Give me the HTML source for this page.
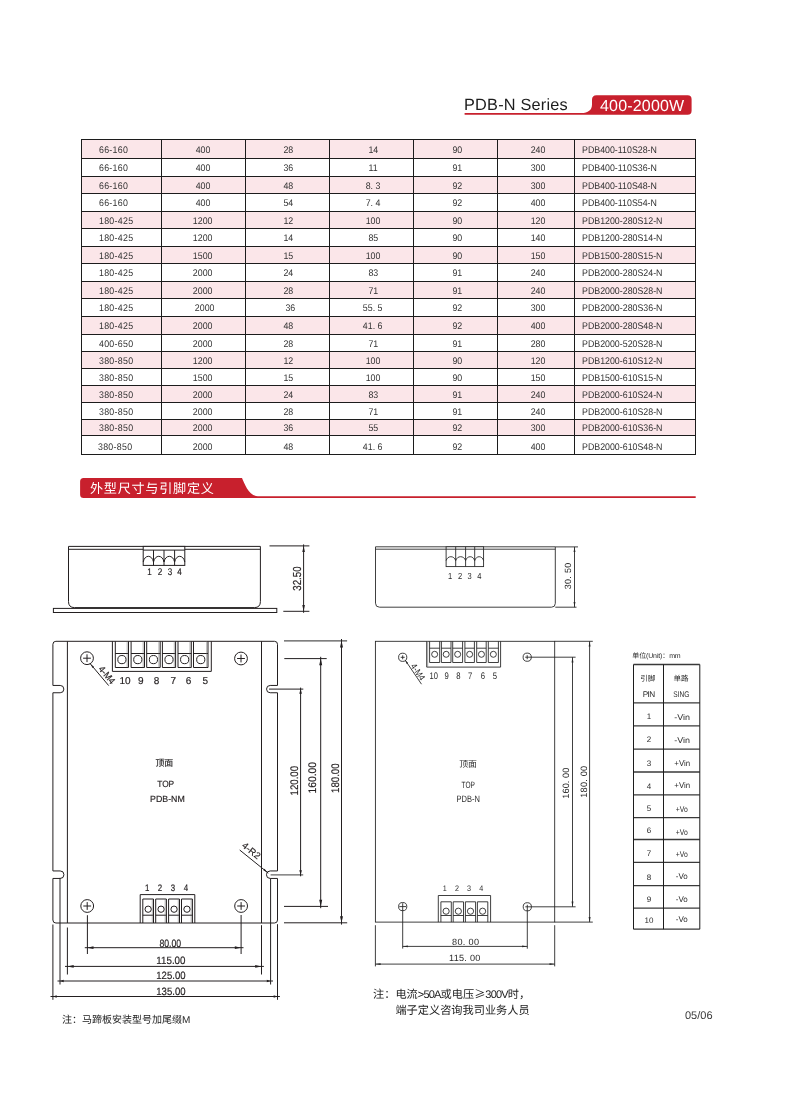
<!DOCTYPE html>
<html lang="zh-CN">
<head>
<meta charset="utf-8">
<title>PDB-N Series 400-2000W</title>
<style>
*{box-sizing:border-box}
html,body{margin:0;padding:0;background:#fff}
body{text-rendering:geometricPrecision;width:806px;height:1100px;position:relative;overflow:hidden;font-family:'Liberation Sans',sans-serif;color:#231f20}
.abs{position:absolute;will-change:transform}
.series{left:464.2px;top:95.4px;font:16.3px/20px 'Liberation Sans',sans-serif;color:#1d1d1d;white-space:nowrap;letter-spacing:.22px}
.watt{left:600px;top:96.6px;font:16px/20px 'Liberation Sans',sans-serif;color:#fff;white-space:nowrap;letter-spacing:.18px}
table.spec{will-change:transform;position:absolute;left:81px;top:139px;border-collapse:collapse;table-layout:fixed;width:615px;font:9.6px/12px 'Liberation Sans',sans-serif;color:#333}
table.spec td span{display:inline-block;position:relative;top:1.9px;transform:scale(.92,1);transform-origin:50% 50%}
table.spec td.c1 span,table.spec td.c7 span{transform-origin:0 50%}
table.spec td{border:1px solid #1c1c1c;padding:0 0 0 0;text-align:center;vertical-align:middle;white-space:nowrap;overflow:hidden}
table.spec tr.p td{background:#fbe6e9}
table.spec td.c1{text-align:left;padding-left:16.6px;letter-spacing:.3px}
table.spec td.c7{text-align:left;padding-left:6.5px}
table.spec td.c2{padding-right:1.5px}
table.spec td.c3{padding-left:1px}
table.spec td.c4{padding-left:3px}
table.spec td.c5{padding-left:3.5px}
table.spec td.c6{padding-left:4px}
.sect{left:90.2px;top:479.2px;font:13.1px/19px 'Liberation Sans','Noto Sans CJK SC',sans-serif;color:#fff;white-space:nowrap;letter-spacing:.75px}
.note1{left:61.8px;top:1012.8px;font:10px/16px 'Liberation Sans','Noto Sans CJK SC',sans-serif;color:#222;white-space:nowrap}
.note2{left:373.4px;top:986.1px;font:11.2px/16.2px 'Liberation Sans','Noto Sans CJK SC',sans-serif;color:#222;white-space:nowrap}
.note2 .cn{font-family:'Liberation Sans','Noto Sans CJK SC',sans-serif}
.note2 .fw{font-family:'Noto Sans CJK SC',sans-serif}
.note2 .la{font-size:11px;letter-spacing:-.8px}
.pageno{left:684.9px;top:1007.6px;font:11px/16px 'Liberation Sans',sans-serif;color:#3a3a3a}
svg text{text-rendering:geometricPrecision;font-family:'Liberation Sans',sans-serif;fill:#231f20}
svg .m{font-family:'Liberation Sans',sans-serif;fill:#2a2a2a}
svg .h{font-family:'Liberation Sans','Noto Sans CJK SC',sans-serif;fill:#2a2a2a}
</style>
</head>
<body>
<svg class="abs" style="left:0;top:0" width="806" height="1100" viewBox="0 0 806 1100">
<g id="hdr" fill="#c8202d" stroke="none">
<path d="M464.6 113.1 H581.5 C588 113.1 592 110 592 104.5 V99.8 Q592 95.3 596.5 95.3 H687.6 Q691.6 95.3 691.6 99.3 V110.8 Q691.6 114.8 687.6 114.8 H464.6 Z"/>
<path d="M83.6 478.1 H242 C244.5 484 249 496.2 258 496.2 H695.7 V497.9 H83.6 Q80.1 497.9 80.1 494.4 V481.6 Q80.1 478.1 83.6 478.1 Z"/>
</g>
</svg>
<div class="abs series">PDB-N Series</div>
<div class="abs watt">400-2000W</div>
<table class="spec"><colgroup><col style="width:80px"><col style="width:84px"><col style="width:84px"><col style="width:84px"><col style="width:84px"><col style="width:77px"><col style="width:121px"></colgroup>
<tr class="p" style="height:19px"><td class="c1"><span>66-160</span></td><td class="c2"><span>400</span></td><td class="c3"><span>28</span></td><td class="c4"><span>14</span></td><td class="c5"><span>90</span></td><td class="c6"><span>240</span></td><td class="c7"><span>PDB400-110S28-N</span></td></tr>
<tr style="height:18px"><td class="c1"><span>66-160</span></td><td class="c2"><span>400</span></td><td class="c3"><span>36</span></td><td class="c4"><span>11</span></td><td class="c5"><span>91</span></td><td class="c6"><span>300</span></td><td class="c7"><span>PDB400-110S36-N</span></td></tr>
<tr class="p" style="height:17px"><td class="c1"><span>66-160</span></td><td class="c2"><span>400</span></td><td class="c3"><span>48</span></td><td class="c4"><span>8. 3</span></td><td class="c5"><span>92</span></td><td class="c6"><span>300</span></td><td class="c7"><span>PDB400-110S48-N</span></td></tr>
<tr style="height:18px"><td class="c1"><span>66-160</span></td><td class="c2"><span>400</span></td><td class="c3"><span>54</span></td><td class="c4"><span>7. 4</span></td><td class="c5"><span>92</span></td><td class="c6"><span>400</span></td><td class="c7"><span>PDB400-110S54-N</span></td></tr>
<tr class="p" style="height:17px"><td class="c1"><span>180-425</span></td><td class="c2"><span>1200</span></td><td class="c3"><span>12</span></td><td class="c4"><span>100</span></td><td class="c5"><span>90</span></td><td class="c6"><span>120</span></td><td class="c7"><span>PDB1200-280S12-N</span></td></tr>
<tr style="height:18px"><td class="c1"><span>180-425</span></td><td class="c2"><span>1200</span></td><td class="c3"><span>14</span></td><td class="c4"><span>85</span></td><td class="c5"><span>90</span></td><td class="c6"><span>140</span></td><td class="c7"><span>PDB1200-280S14-N</span></td></tr>
<tr class="p" style="height:17px"><td class="c1"><span>180-425</span></td><td class="c2"><span>1500</span></td><td class="c3"><span>15</span></td><td class="c4"><span>100</span></td><td class="c5"><span>90</span></td><td class="c6"><span>150</span></td><td class="c7"><span>PDB1500-280S15-N</span></td></tr>
<tr style="height:18px"><td class="c1"><span>180-425</span></td><td class="c2"><span>2000</span></td><td class="c3"><span>24</span></td><td class="c4"><span>83</span></td><td class="c5"><span>91</span></td><td class="c6"><span>240</span></td><td class="c7"><span>PDB2000-280S24-N</span></td></tr>
<tr class="p" style="height:17px"><td class="c1"><span>180-425</span></td><td class="c2"><span>2000</span></td><td class="c3"><span>28</span></td><td class="c4"><span>71</span></td><td class="c5"><span>91</span></td><td class="c6"><span>240</span></td><td class="c7"><span>PDB2000-280S28-N</span></td></tr>
<tr style="height:18px"><td class="c1"><span>180-425</span></td><td class="c2"><span style="left:2px">2000</span></td><td class="c3"><span style="left:2px">36</span></td><td class="c4"><span>55. 5</span></td><td class="c5"><span>92</span></td><td class="c6"><span>300</span></td><td class="c7"><span>PDB2000-280S36-N</span></td></tr>
<tr class="p" style="height:18px"><td class="c1"><span>180-425</span></td><td class="c2"><span>2000</span></td><td class="c3"><span>48</span></td><td class="c4"><span>41. 6</span></td><td class="c5"><span>92</span></td><td class="c6"><span>400</span></td><td class="c7"><span>PDB2000-280S48-N</span></td></tr>
<tr style="height:17px"><td class="c1"><span>400-650</span></td><td class="c2"><span>2000</span></td><td class="c3"><span>28</span></td><td class="c4"><span>71</span></td><td class="c5"><span>91</span></td><td class="c6"><span>280</span></td><td class="c7"><span>PDB2000-520S28-N</span></td></tr>
<tr class="p" style="height:17px"><td class="c1"><span>380-850</span></td><td class="c2"><span>1200</span></td><td class="c3"><span>12</span></td><td class="c4"><span>100</span></td><td class="c5"><span>90</span></td><td class="c6"><span>120</span></td><td class="c7"><span>PDB1200-610S12-N</span></td></tr>
<tr style="height:17px"><td class="c1"><span>380-850</span></td><td class="c2"><span>1500</span></td><td class="c3"><span>15</span></td><td class="c4"><span>100</span></td><td class="c5"><span>90</span></td><td class="c6"><span>150</span></td><td class="c7"><span>PDB1500-610S15-N</span></td></tr>
<tr class="p" style="height:17px"><td class="c1"><span>380-850</span></td><td class="c2"><span>2000</span></td><td class="c3"><span>24</span></td><td class="c4"><span>83</span></td><td class="c5"><span>91</span></td><td class="c6"><span>240</span></td><td class="c7"><span>PDB2000-610S24-N</span></td></tr>
<tr style="height:17px"><td class="c1"><span>380-850</span></td><td class="c2"><span>2000</span></td><td class="c3"><span>28</span></td><td class="c4"><span>71</span></td><td class="c5"><span>91</span></td><td class="c6"><span>240</span></td><td class="c7"><span>PDB2000-610S28-N</span></td></tr>
<tr class="p" style="height:16px"><td class="c1"><span>380-850</span></td><td class="c2"><span>2000</span></td><td class="c3"><span>36</span></td><td class="c4"><span>55</span></td><td class="c5"><span>92</span></td><td class="c6"><span>300</span></td><td class="c7"><span>PDB2000-610S36-N</span></td></tr>
<tr style="height:19px"><td class="c1"><span style="top:2.9px;left:-.8px">380-850</span></td><td class="c2"><span style="top:2.9px">2000</span></td><td class="c3"><span style="top:2.9px">48</span></td><td class="c4"><span style="top:2.9px">41. 6</span></td><td class="c5"><span style="top:2.9px">92</span></td><td class="c6"><span style="top:2.9px">400</span></td><td class="c7"><span style="top:2.9px">PDB2000-610S48-N</span></td></tr>
</table>
<div class="abs sect">外型尺寸与引脚定义</div>
<svg class="abs" style="left:0;top:0" width="806" height="1100" viewBox="0 0 806 1100">
<g id="left" fill="none" stroke="#231f20" stroke-width="1" color="#231f20">
<path d="M68.5 546.4 H260.4 V601.6 Q260.4 607.6 254.4 607.6 H74.5 Q68.5 607.6 68.5 601.6 Z"/>
<line x1="68.5" y1="549.3" x2="260.4" y2="549.3"/>
<rect x="53.4" y="608.4" width="223.4" height="4.1"/>
<rect x="143.2" y="546.4" width="41.6" height="19.0" fill="#fff"/>
<line x1="143.2" y1="550.1" x2="184.8" y2="550.1"/>
<line x1="153.5" y1="550.1" x2="153.5" y2="565.4"/>
<line x1="164.0" y1="550.1" x2="164.0" y2="565.4"/>
<line x1="174.6" y1="550.1" x2="174.6" y2="565.4"/>
<path d="M143.2 562 C144.7 554.4 152.0 554.4 153.5 562"/>
<path d="M153.5 562 C155.0 554.4 162.5 554.4 164.0 562"/>
<path d="M164.0 562 C165.5 554.4 173.1 554.4 174.6 562"/>
<path d="M174.6 562 C176.1 554.4 183.3 554.4 184.8 562"/>
<line x1="269.5" y1="545.9" x2="309.4" y2="545.9"/>
<line x1="283.3" y1="611.3" x2="309.4" y2="611.3"/>
<line x1="303.6" y1="544.4" x2="303.6" y2="612.8"/>
<path d="M303.60 545.90 L304.90 552.10 L302.30 552.10 Z" fill="currentColor" stroke="none"/>
<path d="M303.60 611.30 L302.30 605.10 L304.90 605.10 Z" fill="currentColor" stroke="none"/>
<path d="M55.9 641.3 H274.5 Q277.5 641.3 277.5 644.3 V685.45 H270.2 A3.65 3.65 0 0 0 270.2 692.75 H277.5 V870.95 H270.2 A3.65 3.65 0 0 0 270.2 878.45 H277.5 V920.0 Q277.5 923.0 274.5 923.0 H55.9 Q52.9 923.0 52.9 920.0 V878.45 H60.2 A3.65 3.65 0 0 0 60.2 870.95 H52.9 V692.75 H60.2 A3.65 3.65 0 0 0 60.2 685.45 H52.9 V644.3 Q52.9 641.3 55.9 641.3 Z"/>
<line x1="67.4" y1="641.3" x2="67.4" y2="923.0"/>
<line x1="261.5" y1="641.3" x2="261.5" y2="923.0"/>
<circle cx="87.0" cy="658.2" r="6.4"/>
<line x1="83.1" y1="658.2" x2="90.9" y2="658.2"/>
<line x1="87.0" y1="654.3000000000001" x2="87.0" y2="662.1"/>
<circle cx="241.0" cy="658.5" r="6.4"/>
<line x1="237.1" y1="658.5" x2="244.9" y2="658.5"/>
<line x1="241.0" y1="654.6" x2="241.0" y2="662.4"/>
<circle cx="87.2" cy="906.0" r="6.4"/>
<line x1="83.3" y1="906.0" x2="91.10000000000001" y2="906.0"/>
<line x1="87.2" y1="902.1" x2="87.2" y2="909.9"/>
<circle cx="241.1" cy="906.0" r="6.4"/>
<line x1="237.2" y1="906.0" x2="245.0" y2="906.0"/>
<line x1="241.1" y1="902.1" x2="241.1" y2="909.9"/>
<path d="M112.4 641.3 V671.4 H211.3 V641.3"/>
<path d="M115.3 641.3 V667.5 H128.5 V641.3"/>
<line x1="115.3" y1="653.5" x2="128.5" y2="653.5"/>
<line x1="127.2" y1="641.3" x2="127.2" y2="667.5" stroke-width="0.5" stroke="#666"/>
<circle cx="121.9" cy="659.6" r="4.1"/>
<path d="M131.1 641.3 V667.5 H144.5 V641.3"/>
<line x1="131.1" y1="653.5" x2="144.5" y2="653.5"/>
<line x1="143.2" y1="641.3" x2="143.2" y2="667.5" stroke-width="0.5" stroke="#666"/>
<circle cx="137.8" cy="659.6" r="4.1"/>
<path d="M146.7 641.3 V667.5 H160.2 V641.3"/>
<line x1="146.7" y1="653.5" x2="160.2" y2="653.5"/>
<line x1="158.89999999999998" y1="641.3" x2="158.89999999999998" y2="667.5" stroke-width="0.5" stroke="#666"/>
<circle cx="153.45" cy="659.6" r="4.1"/>
<path d="M162.4 641.3 V667.5 H175.6 V641.3"/>
<line x1="162.4" y1="653.5" x2="175.6" y2="653.5"/>
<line x1="174.29999999999998" y1="641.3" x2="174.29999999999998" y2="667.5" stroke-width="0.5" stroke="#666"/>
<circle cx="169.0" cy="659.6" r="4.1"/>
<path d="M178.0 641.3 V667.5 H191.3 V641.3"/>
<line x1="178.0" y1="653.5" x2="191.3" y2="653.5"/>
<line x1="190.0" y1="641.3" x2="190.0" y2="667.5" stroke-width="0.5" stroke="#666"/>
<circle cx="184.65" cy="659.6" r="4.1"/>
<path d="M193.5 641.3 V667.5 H208.0 V641.3"/>
<line x1="193.5" y1="653.5" x2="208.0" y2="653.5"/>
<line x1="206.7" y1="641.3" x2="206.7" y2="667.5" stroke-width="0.5" stroke="#666"/>
<circle cx="200.75" cy="659.6" r="4.1"/>
<path d="M140.2 923 V894.6 H194.8 V923"/>
<path d="M142.8 923 V899.0 H153.5 V923"/>
<line x1="142.8" y1="915.2" x2="153.5" y2="915.2"/>
<line x1="152.3" y1="899.0" x2="152.3" y2="923" stroke-width="0.5" stroke="#666"/>
<circle cx="148.15" cy="909.2" r="3.15"/>
<path d="M155.7 923 V899.0 H166.4 V923"/>
<line x1="155.7" y1="915.2" x2="166.4" y2="915.2"/>
<line x1="165.20000000000002" y1="899.0" x2="165.20000000000002" y2="923" stroke-width="0.5" stroke="#666"/>
<circle cx="161.05" cy="909.2" r="3.15"/>
<path d="M168.6 923 V899.0 H179.5 V923"/>
<line x1="168.6" y1="915.2" x2="179.5" y2="915.2"/>
<line x1="178.3" y1="899.0" x2="178.3" y2="923" stroke-width="0.5" stroke="#666"/>
<circle cx="174.05" cy="909.2" r="3.15"/>
<path d="M181.5 923 V899.0 H192.4 V923"/>
<line x1="181.5" y1="915.2" x2="192.4" y2="915.2"/>
<line x1="191.20000000000002" y1="899.0" x2="191.20000000000002" y2="923" stroke-width="0.5" stroke="#666"/>
<circle cx="186.95" cy="909.2" r="3.15"/>
<line x1="89.7" y1="663.1" x2="108.7" y2="685.6"/>
<path d="M90.60 664.20 L94.07 666.76 L92.55 668.05 Z" fill="currentColor" stroke="none"/>
<line x1="239.7" y1="850.0" x2="268.3" y2="873.1"/>
<path d="M267.50 872.45 L263.29 870.34 L264.55 868.78 Z" fill="currentColor" stroke="none"/>
<line x1="284.0" y1="640.9" x2="347.1" y2="640.9" stroke-width="1.25" stroke="#555"/>
<line x1="284.3" y1="658.6" x2="326.7" y2="658.6"/>
<line x1="269" y1="689.1" x2="303.3" y2="689.1"/>
<line x1="270.6" y1="874.8" x2="303.2" y2="874.8" stroke-width="1.2" stroke="#666"/>
<line x1="284" y1="906.4" x2="328" y2="906.4"/>
<line x1="284" y1="922.8" x2="347.2" y2="922.8"/>
<line x1="300.6" y1="687.6" x2="300.6" y2="876.3"/>
<path d="M300.60 689.10 L301.90 693.70 L299.30 693.70 Z" fill="currentColor" stroke="none"/>
<path d="M300.60 874.80 L299.30 870.20 L301.90 870.20 Z" fill="currentColor" stroke="none"/>
<line x1="320.7" y1="656.8000000000001" x2="320.7" y2="908.1999999999999"/>
<path d="M320.70 658.60 L322.20 665.20 L319.20 665.20 Z" fill="currentColor" stroke="none"/>
<path d="M320.70 906.40 L319.20 899.80 L322.20 899.80 Z" fill="currentColor" stroke="none"/>
<line x1="341.5" y1="639.0" x2="341.5" y2="924.5999999999999"/>
<path d="M341.50 640.80 L343.00 647.40 L340.00 647.40 Z" fill="currentColor" stroke="none"/>
<path d="M341.50 922.80 L340.00 916.20 L343.00 916.20 Z" fill="currentColor" stroke="none"/>
<line x1="87.4" y1="915.2" x2="87.4" y2="954.0"/>
<line x1="241.1" y1="915.0" x2="241.1" y2="954.0"/>
<line x1="67.4" y1="927.5" x2="67.4" y2="974.5"/>
<line x1="261.5" y1="925.2" x2="261.5" y2="974.5"/>
<line x1="60.0" y1="877.9" x2="60.0" y2="984.5"/>
<line x1="270.6" y1="878.6" x2="270.6" y2="984.5"/>
<line x1="52.9" y1="924.5" x2="52.9" y2="999.8"/>
<line x1="277.5" y1="924.2" x2="277.5" y2="999.8"/>
<line x1="84.8" y1="947.7" x2="243.5" y2="947.7"/>
<path d="M87.20 947.70 L93.50 946.30 L93.50 949.10 Z" fill="currentColor" stroke="none"/>
<path d="M241.10 947.70 L234.80 949.10 L234.80 946.30 Z" fill="currentColor" stroke="none"/>
<line x1="65.0" y1="966.4" x2="263.9" y2="966.4"/>
<path d="M67.40 966.40 L73.70 965.00 L73.70 967.80 Z" fill="currentColor" stroke="none"/>
<path d="M261.50 966.40 L255.20 967.80 L255.20 965.00 Z" fill="currentColor" stroke="none"/>
<line x1="57.5" y1="981.0" x2="273.0" y2="981.0"/>
<path d="M59.90 981.00 L63.70 979.80 L63.70 982.20 Z" fill="currentColor" stroke="none"/>
<path d="M270.60 981.00 L266.80 982.20 L266.80 979.80 Z" fill="currentColor" stroke="none"/>
<line x1="50.5" y1="996.5" x2="279.9" y2="996.5"/>
<path d="M52.90 996.50 L56.70 995.30 L56.70 997.70 Z" fill="currentColor" stroke="none"/>
<path d="M277.50 996.50 L273.70 997.70 L273.70 995.30 Z" fill="currentColor" stroke="none"/>
</g>
<g id="left-text" stroke="#231f20" stroke-width="0.18">
<text x="149.5" y="575.0" font-size="9.6" text-anchor="middle" textLength="4.5" lengthAdjust="spacingAndGlyphs">1</text>
<text x="160.0" y="575.0" font-size="9.6" text-anchor="middle" textLength="4.5" lengthAdjust="spacingAndGlyphs">2</text>
<text x="170.0" y="575.0" font-size="9.6" text-anchor="middle" textLength="4.5" lengthAdjust="spacingAndGlyphs">3</text>
<text x="179.6" y="575.0" font-size="9.6" text-anchor="middle" textLength="4.5" lengthAdjust="spacingAndGlyphs">4</text>
<text font-size="11.6" text-anchor="middle" textLength="24.4" lengthAdjust="spacingAndGlyphs" transform="translate(301.4 578.6) rotate(-90)">32.50</text>
<text x="125.0" y="684.3" font-size="10" text-anchor="middle">10</text>
<text x="140.7" y="684.3" font-size="10" text-anchor="middle">9</text>
<text x="156.6" y="684.3" font-size="10" text-anchor="middle">8</text>
<text x="173.2" y="684.3" font-size="10" text-anchor="middle">7</text>
<text x="188.5" y="684.3" font-size="10" text-anchor="middle">6</text>
<text x="205.3" y="684.3" font-size="10" text-anchor="middle">5</text>
<text x="147.2" y="891.1" font-size="9.4" text-anchor="middle" textLength="4.4" lengthAdjust="spacingAndGlyphs">1</text>
<text x="160.0" y="891.1" font-size="9.4" text-anchor="middle" textLength="4.4" lengthAdjust="spacingAndGlyphs">2</text>
<text x="173.0" y="891.1" font-size="9.4" text-anchor="middle" textLength="4.4" lengthAdjust="spacingAndGlyphs">3</text>
<text x="186.0" y="891.1" font-size="9.4" text-anchor="middle" textLength="4.4" lengthAdjust="spacingAndGlyphs">4</text>
<text font-size="9.4" textLength="20.2" lengthAdjust="spacingAndGlyphs" transform="translate(97.9 669.3) rotate(49.8)">4-M4</text>
<text font-size="9.4" textLength="20.6" lengthAdjust="spacingAndGlyphs" transform="translate(241.3 846.6) rotate(38.9)">4-R2</text>
<text x="164.3" y="766.4" font-size="8.9" class="h" text-anchor="middle">顶面</text>
<text x="165.7" y="786.6" font-size="9.1" text-anchor="middle" textLength="17.0" lengthAdjust="spacingAndGlyphs">TOP</text>
<text x="167.4" y="802.1" font-size="9.1" text-anchor="middle" textLength="34.6" lengthAdjust="spacingAndGlyphs">PDB-NM</text>
<text font-size="11" text-anchor="middle" textLength="29.6" lengthAdjust="spacingAndGlyphs" transform="translate(298.1 780.7) rotate(-90)">120.00</text>
<text font-size="11" text-anchor="middle" textLength="31.4" lengthAdjust="spacingAndGlyphs" transform="translate(315.8 777.8) rotate(-90)">160.00</text>
<text font-size="11" text-anchor="middle" textLength="29.6" lengthAdjust="spacingAndGlyphs" transform="translate(338.8 778.2) rotate(-90)">180.00</text>
<text x="170.3" y="946.5" font-size="10.6" text-anchor="middle" textLength="21.8" lengthAdjust="spacingAndGlyphs">80.00</text>
<text x="170.9" y="963.7" font-size="10.6" text-anchor="middle" textLength="29.2" lengthAdjust="spacingAndGlyphs">115.00</text>
<text x="170.9" y="979.3" font-size="10.6" text-anchor="middle" textLength="29.2" lengthAdjust="spacingAndGlyphs">125.00</text>
<text x="170.9" y="994.8" font-size="10.6" text-anchor="middle" textLength="29.2" lengthAdjust="spacingAndGlyphs">135.00</text>
</g>
<g id="right" fill="none" stroke="#262626" stroke-width="0.88" color="#262626">
<path d="M375.5 546.8 H555.3 V603.4 Q555.3 607.2 551.5 607.2 H379.5 Q375.5 607.2 375.5 603.2 Z"/>
<line x1="375.5" y1="549.2" x2="555.3" y2="549.2"/>
<rect x="446.1" y="546.8" width="37.5" height="19.8" fill="#fff"/>
<line x1="446.1" y1="549.2" x2="483.6" y2="549.2"/>
<line x1="455.7" y1="546.8" x2="455.7" y2="566.6"/>
<line x1="465.6" y1="546.8" x2="465.6" y2="566.6"/>
<line x1="474.7" y1="546.8" x2="474.7" y2="566.6"/>
<path d="M446.1 560.6 C447.6 555.4 454.2 555.4 455.7 560.6"/>
<path d="M455.7 560.6 C457.2 555.4 464.1 555.4 465.6 560.6"/>
<path d="M465.6 560.6 C467.1 555.4 473.2 555.4 474.7 560.6"/>
<path d="M474.7 560.6 C476.2 555.4 482.1 555.4 483.6 560.6"/>
<line x1="555.3" y1="546.9" x2="578" y2="546.9"/>
<line x1="555.3" y1="607.2" x2="576.5" y2="607.2"/>
<line x1="574.5" y1="546.9" x2="574.5" y2="607.2"/>
<path d="M574.50 546.90 L575.45 552.10 L573.55 552.10 Z" fill="currentColor" stroke="none"/>
<path d="M574.50 607.20 L573.55 602.00 L575.45 602.00 Z" fill="currentColor" stroke="none"/>
<rect x="375.4" y="641.3" width="179.3" height="280.8"/>
<line x1="554.7" y1="641.3" x2="592.8" y2="641.3"/>
<line x1="554.7" y1="922.1" x2="592.8" y2="922.1"/>
<circle cx="402.7" cy="657.3" r="4.1"/>
<circle cx="527.2" cy="657.2" r="4.1"/>
<circle cx="402.7" cy="906.6" r="4.1"/>
<circle cx="527.3" cy="906.8" r="4.1"/>
<line x1="400.7" y1="657.3" x2="404.7" y2="657.3"/>
<line x1="402.7" y1="655.3" x2="402.7" y2="659.3"/>
<line x1="525.2" y1="657.2" x2="575.6" y2="657.2"/>
<line x1="527.2" y1="655.2" x2="527.2" y2="659.2"/>
<line x1="399.3" y1="906.6" x2="406.09999999999997" y2="906.6"/>
<line x1="402.7" y1="903.2" x2="402.7" y2="948.6"/>
<line x1="525.3" y1="906.8" x2="575.6" y2="906.8"/>
<line x1="527.3" y1="904.8" x2="527.3" y2="948.7"/>
<path d="M426.7 641.3 V667.1 H500.6 V641.3"/>
<line x1="427.7" y1="641.3" x2="427.7" y2="667.1" stroke-width="0.6" stroke="#777"/>
<path d="M429.6 641.3 V662.5 H439.7 V641.3"/>
<line x1="429.6" y1="648.2" x2="439.7" y2="648.2"/>
<circle cx="434.65" cy="654.3" r="3.0"/>
<path d="M441.4 641.3 V662.5 H451.0 V641.3"/>
<line x1="441.4" y1="648.2" x2="451.0" y2="648.2"/>
<circle cx="446.2" cy="654.3" r="3.0"/>
<path d="M452.7 641.3 V662.5 H462.6 V641.3"/>
<line x1="452.7" y1="648.2" x2="462.6" y2="648.2"/>
<circle cx="457.65" cy="654.3" r="3.0"/>
<path d="M464.9 641.3 V662.5 H474.4 V641.3"/>
<line x1="464.9" y1="648.2" x2="474.4" y2="648.2"/>
<circle cx="469.65" cy="654.3" r="3.0"/>
<path d="M476.7 641.3 V662.5 H486.2 V641.3"/>
<line x1="476.7" y1="648.2" x2="486.2" y2="648.2"/>
<circle cx="481.45" cy="654.3" r="3.0"/>
<path d="M488.3 641.3 V662.5 H498.4 V641.3"/>
<line x1="488.3" y1="648.2" x2="498.4" y2="648.2"/>
<circle cx="493.35" cy="654.3" r="3.0"/>
<path d="M438.3 922.1 V895.5 H490.6 V922.1"/>
<path d="M440.9 922.1 V901.8 H451.3 V922.1"/>
<line x1="440.9" y1="915.5" x2="451.3" y2="915.5"/>
<circle cx="446.1" cy="911.2" r="3.1"/>
<path d="M453.2 922.1 V901.8 H463.5 V922.1"/>
<line x1="453.2" y1="915.5" x2="463.5" y2="915.5"/>
<circle cx="458.35" cy="911.2" r="3.1"/>
<path d="M465.4 922.1 V901.8 H475.6 V922.1"/>
<line x1="465.4" y1="915.5" x2="475.6" y2="915.5"/>
<circle cx="470.5" cy="911.2" r="3.1"/>
<path d="M477.4 922.1 V901.8 H487.8 V922.1"/>
<line x1="477.4" y1="915.5" x2="487.8" y2="915.5"/>
<circle cx="482.6" cy="911.2" r="3.1"/>
<line x1="405.0" y1="659.9" x2="421.5" y2="684.2"/>
<path d="M405.40 660.50 L408.17 662.97 L406.68 663.98 Z" fill="currentColor" stroke="none"/>
<line x1="375.4" y1="925.2" x2="375.4" y2="966.4"/>
<line x1="554.7" y1="925.2" x2="554.7" y2="966.4"/>
<line x1="402.7" y1="946.4" x2="527.3" y2="946.4"/>
<path d="M402.70 946.40 L407.90 945.45 L407.90 947.35 Z" fill="currentColor" stroke="none"/>
<path d="M527.30 946.40 L522.10 947.35 L522.10 945.45 Z" fill="currentColor" stroke="none"/>
<line x1="375.4" y1="964.1" x2="554.7" y2="964.1"/>
<path d="M375.40 964.10 L380.60 963.15 L380.60 965.05 Z" fill="currentColor" stroke="none"/>
<path d="M554.70 964.10 L549.50 965.05 L549.50 963.15 Z" fill="currentColor" stroke="none"/>
<line x1="572.5" y1="657.2" x2="572.5" y2="906.8"/>
<path d="M572.50 657.20 L573.45 662.40 L571.55 662.40 Z" fill="currentColor" stroke="none"/>
<path d="M572.50 906.80 L571.55 901.60 L573.45 901.60 Z" fill="currentColor" stroke="none"/>
<line x1="589.6" y1="641.3" x2="589.6" y2="922.1"/>
<path d="M589.60 641.30 L590.55 646.50 L588.65 646.50 Z" fill="currentColor" stroke="none"/>
<path d="M589.60 922.10 L588.65 916.90 L590.55 916.90 Z" fill="currentColor" stroke="none"/>
</g>
<g id="right-text" stroke="none">
<text x="450.1" y="579.0" font-size="8.7" class="m" text-anchor="middle" textLength="4.2" lengthAdjust="spacingAndGlyphs">1</text>
<text x="460.1" y="579.0" font-size="8.7" class="m" text-anchor="middle" textLength="4.2" lengthAdjust="spacingAndGlyphs">2</text>
<text x="469.7" y="579.0" font-size="8.7" class="m" text-anchor="middle" textLength="4.2" lengthAdjust="spacingAndGlyphs">3</text>
<text x="479.4" y="579.0" font-size="8.7" class="m" text-anchor="middle" textLength="4.2" lengthAdjust="spacingAndGlyphs">4</text>
<text font-size="9" class="m" text-anchor="middle" textLength="26.4" lengthAdjust="spacing" transform="translate(571.3 576.0) rotate(-90)">30. 50</text>
<text x="433.8" y="678.7" font-size="9.5" class="m" text-anchor="middle" textLength="8.4" lengthAdjust="spacingAndGlyphs">10</text>
<text x="446.6" y="678.7" font-size="9.5" class="m" text-anchor="middle" textLength="4.3" lengthAdjust="spacingAndGlyphs">9</text>
<text x="458.5" y="678.7" font-size="9.5" class="m" text-anchor="middle" textLength="4.3" lengthAdjust="spacingAndGlyphs">8</text>
<text x="470.1" y="678.7" font-size="9.5" class="m" text-anchor="middle" textLength="4.3" lengthAdjust="spacingAndGlyphs">7</text>
<text x="482.8" y="678.7" font-size="9.5" class="m" text-anchor="middle" textLength="4.3" lengthAdjust="spacingAndGlyphs">6</text>
<text x="494.9" y="678.7" font-size="9.5" class="m" text-anchor="middle" textLength="4.3" lengthAdjust="spacingAndGlyphs">5</text>
<text x="444.7" y="890.9" font-size="8" class="m" text-anchor="middle" textLength="4.0" lengthAdjust="spacingAndGlyphs">1</text>
<text x="457.1" y="890.9" font-size="8" class="m" text-anchor="middle" textLength="4.0" lengthAdjust="spacingAndGlyphs">2</text>
<text x="469.0" y="890.9" font-size="8" class="m" text-anchor="middle" textLength="4.0" lengthAdjust="spacingAndGlyphs">3</text>
<text x="481.2" y="890.9" font-size="8" class="m" text-anchor="middle" textLength="4.0" lengthAdjust="spacingAndGlyphs">4</text>
<text font-size="9" class="m" textLength="18.3" lengthAdjust="spacingAndGlyphs" transform="translate(410.3 666.0) rotate(56.2)">4-M4</text>
<text x="468.0" y="767.2" font-size="8.9" class="h" text-anchor="middle">顶面</text>
<text x="468.2" y="787.8" font-size="9.2" class="m" text-anchor="middle" textLength="13.4" lengthAdjust="spacingAndGlyphs">TOP</text>
<text x="468.2" y="802.1" font-size="9.2" class="m" text-anchor="middle" textLength="23.4" lengthAdjust="spacingAndGlyphs">PDB-N</text>
<text font-size="9.2" class="m" text-anchor="middle" textLength="31.0" lengthAdjust="spacing" transform="translate(569.0 783.2) rotate(-90)">160. 00</text>
<text font-size="9.2" class="m" text-anchor="middle" textLength="31.8" lengthAdjust="spacing" transform="translate(586.6 781.8) rotate(-90)">180. 00</text>
<text x="465.5" y="944.5" font-size="9.1" class="m" text-anchor="middle" textLength="27.0" lengthAdjust="spacing">80. 00</text>
<text x="464.7" y="960.5" font-size="9.1" class="m" text-anchor="middle" textLength="31.2" lengthAdjust="spacing">115. 00</text>
</g>
<g id="pins" fill="none" stroke="#1c1c1c" stroke-width="1">
<line x1="633.5" y1="664.5" x2="699.8" y2="664.5" stroke-width="1.3" stroke="#3a3a3a"/>
<line x1="633.5" y1="702.9" x2="699.8" y2="702.9" stroke-width="1.3" stroke="#3a3a3a"/>
<line x1="633.5" y1="725.9" x2="699.8" y2="725.9" stroke-width="1.3" stroke="#3a3a3a"/>
<line x1="633.5" y1="749.1" x2="699.8" y2="749.1" stroke-width="1.3" stroke="#3a3a3a"/>
<line x1="633.5" y1="772.0" x2="699.8" y2="772.0" stroke-width="1.3" stroke="#3a3a3a"/>
<line x1="633.5" y1="794.8" x2="699.8" y2="794.8" stroke-width="1.3" stroke="#3a3a3a"/>
<line x1="633.5" y1="817.6" x2="699.8" y2="817.6" stroke-width="1.3" stroke="#3a3a3a"/>
<line x1="633.5" y1="839.5" x2="699.8" y2="839.5" stroke-width="1.3" stroke="#3a3a3a"/>
<line x1="633.5" y1="862.4" x2="699.8" y2="862.4" stroke-width="1.3" stroke="#3a3a3a"/>
<line x1="633.5" y1="885.6" x2="699.8" y2="885.6" stroke-width="1.3" stroke="#3a3a3a"/>
<line x1="633.5" y1="908.2" x2="699.8" y2="908.2" stroke-width="1.3" stroke="#3a3a3a"/>
<line x1="633.5" y1="929.2" x2="699.8" y2="929.2" stroke-width="1.3" stroke="#3a3a3a"/>
<line x1="633.5" y1="664.5" x2="633.5" y2="929.2"/>
<line x1="663.5" y1="664.5" x2="663.5" y2="929.2"/>
<line x1="699.8" y1="664.5" x2="699.8" y2="929.2"/>
</g>
<g id="pin-text" stroke="none">
<text x="632.3" y="657.6" font-size="7" class="h" textLength="48.4" lengthAdjust="spacing">单位(Unit)：mm</text>
<text x="647.8" y="681.2" font-size="7.6" class="h" text-anchor="middle">引脚</text>
<text x="681.0" y="681.2" font-size="7.6" class="h" text-anchor="middle">单路</text>
<text x="648.9" y="697.2" font-size="8.2" class="m" text-anchor="middle" textLength="12.3" lengthAdjust="spacing">PIN</text>
<text x="681.3" y="697.2" font-size="8.2" class="m" text-anchor="middle" textLength="16.0" lengthAdjust="spacingAndGlyphs">SING</text>
<text x="649.0" y="719.3" font-size="8" class="m" text-anchor="middle">1</text>
<text x="682.2" y="720.0" font-size="8.2" class="m" text-anchor="middle" textLength="15.8" lengthAdjust="spacingAndGlyphs">-Vin</text>
<text x="649.0" y="742.0" font-size="8" class="m" text-anchor="middle">2</text>
<text x="682.2" y="742.6" font-size="8.2" class="m" text-anchor="middle" textLength="15.8" lengthAdjust="spacingAndGlyphs">-Vin</text>
<text x="649.0" y="765.7" font-size="8" class="m" text-anchor="middle">3</text>
<text x="682.2" y="765.7" font-size="8.2" class="m" text-anchor="middle" textLength="15.8" lengthAdjust="spacingAndGlyphs">+Vin</text>
<text x="649.0" y="788.8" font-size="8" class="m" text-anchor="middle">4</text>
<text x="682.2" y="788.2" font-size="8.2" class="m" text-anchor="middle" textLength="15.8" lengthAdjust="spacingAndGlyphs">+Vin</text>
<text x="649.0" y="810.9" font-size="8" class="m" text-anchor="middle">5</text>
<text x="681.8" y="811.8" font-size="8.2" class="m" text-anchor="middle" textLength="12.0" lengthAdjust="spacingAndGlyphs">+Vo</text>
<text x="649.0" y="832.8" font-size="8" class="m" text-anchor="middle">6</text>
<text x="681.8" y="834.7" font-size="8.2" class="m" text-anchor="middle" textLength="12.0" lengthAdjust="spacingAndGlyphs">+Vo</text>
<text x="649.0" y="855.7" font-size="8" class="m" text-anchor="middle">7</text>
<text x="681.8" y="857.0" font-size="8.2" class="m" text-anchor="middle" textLength="12.0" lengthAdjust="spacingAndGlyphs">+Vo</text>
<text x="649.0" y="879.5" font-size="8" class="m" text-anchor="middle">8</text>
<text x="681.8" y="879.2" font-size="8.2" class="m" text-anchor="middle" textLength="12.0" lengthAdjust="spacingAndGlyphs">-Vo</text>
<text x="649.0" y="902.4" font-size="8" class="m" text-anchor="middle">9</text>
<text x="681.8" y="901.9" font-size="8.2" class="m" text-anchor="middle" textLength="12.0" lengthAdjust="spacingAndGlyphs">-Vo</text>
<text x="649.0" y="922.7" font-size="8" class="m" text-anchor="middle">10</text>
<text x="681.8" y="921.8" font-size="8.2" class="m" text-anchor="middle" textLength="12.0" lengthAdjust="spacingAndGlyphs">-Vo</text>
</g>
</svg>
<div class="abs note1">注：马蹄板安装型号加尾缀M</div>
<div class="abs note2"><span class="cn">注：电流</span><span class="la">&gt;50A</span><span class="cn">或电压</span><span class="fw">≥</span><span class="la">300V</span><span class="cn">时，</span><br><span class="cn" style="padding-left:22.4px">端子定义咨询我司业务人员</span></div>
<div class="abs pageno">05/06</div>
</body>
</html>
